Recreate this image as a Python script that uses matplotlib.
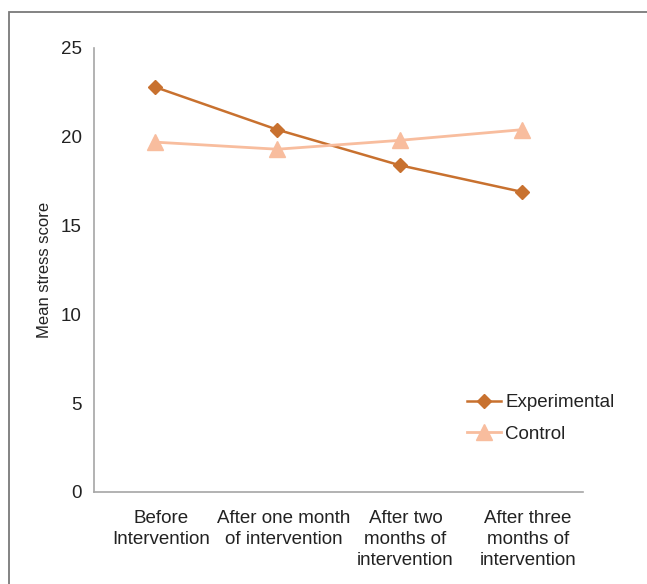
import matplotlib
matplotlib.use("Agg")
import matplotlib.pyplot as plt
import matplotlib.transforms as mtransforms
from matplotlib.patches import Rectangle

plt.rcParams['font.family'] = ['Liberation Sans', 'DejaVu Sans']

# data
stages = ["Before\nIntervention", "After one month\nof intervention",
          "After two\nmonths of\nintervention", "After three\nmonths of\nintervention"]
experimental = [22.8, 20.4, 18.4, 16.9]
control = [19.7, 19.3, 19.8, 20.4]
yticks = [0, 5, 10, 15, 20, 25]

exp_color = '#C8712F'
ctl_color = '#F8BD9E'
text_color = '#222222'

fig = plt.figure(figsize=(6.47, 5.84), dpi=100)

# outer grey frame (runs off the right and bottom edges)
frame = Rectangle((9 / 647, -0.1), 1.0, 1 - 12 / 584 + 0.1, transform=fig.transFigure,
                  fill=False, edgecolor='#7a7a7a', linewidth=1.3)
fig.patches.append(frame)

ax = fig.add_axes([94 / 647, 1 - 492 / 584, (583 - 94) / 647, (492 - 48) / 584])

x = list(range(len(stages)))
ax.plot(x, experimental, color=exp_color, linewidth=1.8, marker='D', markersize=7,
        label='Experimental')
ax.plot(x, control, color=ctl_color, linewidth=2.0, marker='^', markersize=11,
        label='Control')

ax.set_xlim(-0.5, len(stages) - 0.5)
ax.set_ylim(0, 25)
ax.set_yticks(yticks)
ax.set_xticks(x)
ax.set_xticklabels(stages, fontsize=13.5, color=text_color, linespacing=1.3)
ax.tick_params(axis='both', length=0, labelsize=13.5, labelcolor=text_color)
ax.tick_params(axis='y', pad=9)
ax.tick_params(axis='x', pad=13)

# category labels sit a little right of the data points in the original
shift = mtransforms.ScaledTranslation(6 / 100, 0, fig.dpi_scale_trans)
for lab in ax.get_xticklabels():
    lab.set_transform(lab.get_transform() + shift)

for s in ['top', 'right']:
    ax.spines[s].set_visible(False)
for s in ['left', 'bottom']:
    ax.spines[s].set_color('#a6a6a6')
    ax.spines[s].set_linewidth(1.2)

ax.set_ylabel('Mean stress score', fontsize=12, color=text_color, labelpad=6)

fig.legend(loc='upper left', bbox_to_anchor=(467 / 647, 1 - 394 / 584), frameon=False,
           fontsize=13.5, handlelength=1.8, handletextpad=0.25, labelspacing=0.78,
           borderpad=0, borderaxespad=0, labelcolor=text_color)

fig.savefig('out.png', dpi=100)
